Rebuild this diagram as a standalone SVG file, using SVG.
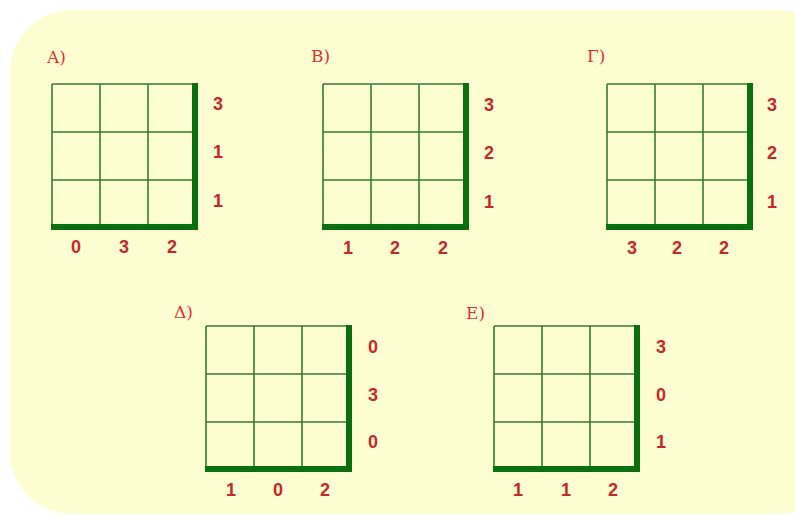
<svg xmlns="http://www.w3.org/2000/svg" width="795" height="516" viewBox="0 0 795 516">
<style>
.thin{stroke:#3a7a2e;stroke-width:1.6;fill:none}
.thick{stroke:#0a700f;stroke-width:6;fill:none}
.num{font-family:"Liberation Sans",Arial,sans-serif;font-weight:bold;font-size:18px;fill:#c62828;text-anchor:middle}
.lbl{font-family:"DejaVu Serif","Liberation Serif",serif;font-size:17px;fill:#dd3333}
</style>
<defs>
<g id="grid">
<path class="thin" d="M0,0H143M0,48H143M0,96H143M0,0V143M48,0V143M96,0V143"/>
<path class="thick" d="M143,-1V146M-1,143H146"/>
</g>
</defs>
<rect x="10" y="10" width="830" height="504" rx="62" fill="#fdfdd2"/>
<g id="gridA" transform="translate(52,84)">
<use href="#grid"/>
<text class="lbl" x="-5" y="-21">A)</text>
<text class="num" x="166" y="26">3</text><text class="num" x="166" y="74">1</text><text class="num" x="166" y="123">1</text>
<text class="num" x="24" y="169">0</text><text class="num" x="72" y="169">3</text><text class="num" x="120" y="169">2</text>
</g>
<g id="gridB" transform="translate(323,84)">
<use href="#grid"/>
<text class="lbl" x="-12" y="-22">B)</text>
<text class="num" x="166" y="27">3</text><text class="num" x="166" y="75">2</text><text class="num" x="166" y="124">1</text>
<text class="num" x="25" y="170">1</text><text class="num" x="72" y="170">2</text><text class="num" x="120" y="170">2</text>
</g>
<g id="gridG" transform="translate(607,84)">
<use href="#grid"/>
<text class="lbl" x="-20" y="-22">Γ)</text>
<text class="num" x="165" y="27">3</text><text class="num" x="165" y="75">2</text><text class="num" x="165" y="124">1</text>
<text class="num" x="25" y="170">3</text><text class="num" x="70" y="170">2</text><text class="num" x="117" y="170">2</text>
</g>
<g id="gridD" transform="translate(206,326)">
<use href="#grid"/>
<text class="lbl" x="-32" y="-8">Δ)</text>
<text class="num" x="167" y="27">0</text><text class="num" x="167" y="75">3</text><text class="num" x="167" y="122">0</text>
<text class="num" x="25" y="170">1</text><text class="num" x="72" y="170">0</text><text class="num" x="119" y="170">2</text>
</g>
<g id="gridE" transform="translate(494,326)">
<use href="#grid"/>
<text class="lbl" x="-28" y="-7">E)</text>
<text class="num" x="167" y="27">3</text><text class="num" x="167" y="75">0</text><text class="num" x="167" y="122">1</text>
<text class="num" x="24" y="170">1</text><text class="num" x="72" y="170">1</text><text class="num" x="119" y="170">2</text>
</g>
<g id="connectors"/>
</svg>
